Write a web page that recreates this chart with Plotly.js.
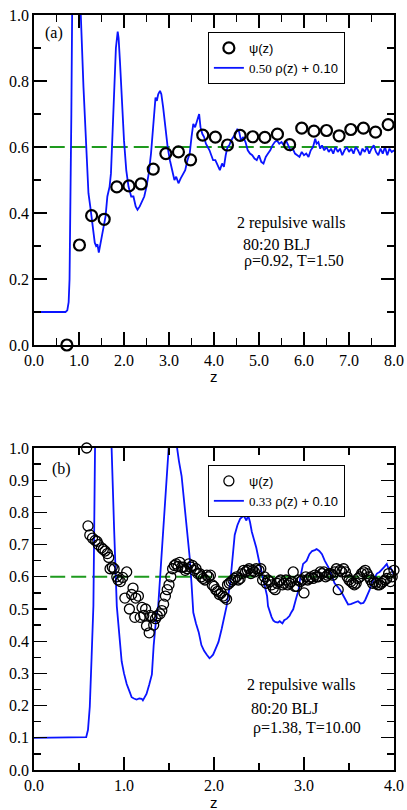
<!DOCTYPE html>
<html><head><meta charset="utf-8">
<script src="https://cdn.plot.ly/plotly-3.0.1.min.js"></script>
<style>html,body{margin:0;padding:0;background:#fff}#chart{width:407px;height:810px}</style>
</head><body><div id="chart"></div>
<script>
// ---------- Panel (a) ----------
const psiA_z = [0.73,1.01,1.28,1.56,1.84,2.11,2.38,2.65,2.93,3.21,3.48,3.75,4.03,4.30,4.58,4.86,5.13,5.41,5.68,5.95,6.22,6.50,6.78,7.04,7.32,7.59,7.87];
const psiA   = [0.00,0.303,0.392,0.381,0.479,0.482,0.488,0.533,0.580,0.585,0.561,0.636,0.630,0.606,0.635,0.631,0.629,0.639,0.607,0.657,0.648,0.650,0.634,0.653,0.657,0.645,0.668];

const rhoA_z = [0,0.70,0.74,0.77,0.79,0.81,0.83,0.85,0.90,0.95,1.00,1.04,1.10,1.16,1.21,1.25,1.30,1.35,1.38,1.41,1.44,1.47,1.51,1.55,1.59,1.63,1.68,1.71,1.74,1.78,1.82,1.86,1.88,1.91,1.95,2.00,2.05,2.10,2.16,2.21,2.26,2.30,2.35,2.40,2.45,2.50,2.55,2.60,2.65,2.70,2.73,2.76,2.80,2.83,2.87,2.92,2.97,3.02,3.07,3.12,3.16,3.21,3.26,3.31,3.36,3.41,3.46,3.50,3.54,3.58,3.63,3.67,3.70,3.74,3.78,3.82,3.86,3.90,3.94,3.98,4.03,4.08,4.13,4.18,4.22,4.26,4.30,4.34,4.38,4.43,4.48,4.52,4.56,4.60,4.65,4.70,4.75,4.80,4.85,4.90,4.95,5.00,5.05,5.10,5.15,5.20,5.25,5.30,5.35,5.40,5.45,5.50,5.55,5.60,5.65,5.70,5.75,5.80,5.85,5.90,5.95,6.00,6.05,6.10,6.15,6.20,6.25,6.28,6.32,6.36,6.40,6.45,6.50,6.55,6.60,6.65,6.70,6.75,6.80,6.85,6.90,6.95,7.00,7.05,7.10,7.15,7.20,7.25,7.30,7.35,7.40,7.45,7.50,7.55,7.60,7.65,7.70,7.75,7.80,7.85,7.90,7.95,8.00];
const rhoA   = [0.10,0.10,0.105,0.13,0.20,0.40,0.70,1.05,1.70,1.90,1.35,1.00,0.78,0.58,0.46,0.42,0.36,0.31,0.30,0.305,0.28,0.30,0.33,0.36,0.39,0.45,0.48,0.52,0.62,0.78,0.90,0.95,0.93,0.86,0.74,0.62,0.53,0.48,0.45,0.45,0.42,0.41,0.42,0.435,0.45,0.48,0.52,0.58,0.66,0.75,0.74,0.76,0.77,0.76,0.72,0.65,0.60,0.56,0.53,0.50,0.51,0.49,0.505,0.52,0.53,0.56,0.58,0.63,0.67,0.66,0.68,0.70,0.66,0.64,0.63,0.61,0.60,0.59,0.575,0.56,0.56,0.545,0.53,0.55,0.54,0.575,0.60,0.605,0.62,0.63,0.64,0.655,0.645,0.62,0.63,0.615,0.59,0.58,0.575,0.565,0.56,0.575,0.555,0.55,0.57,0.58,0.59,0.605,0.615,0.62,0.61,0.615,0.605,0.62,0.605,0.59,0.595,0.58,0.575,0.57,0.585,0.575,0.58,0.57,0.59,0.60,0.625,0.61,0.615,0.595,0.605,0.59,0.60,0.585,0.595,0.58,0.60,0.585,0.595,0.575,0.59,0.60,0.585,0.595,0.58,0.60,0.59,0.575,0.595,0.585,0.60,0.58,0.595,0.605,0.585,0.575,0.595,0.58,0.60,0.575,0.595,0.585,0.59];

// ---------- Panel (b) ----------
const psiB_z = [0.585,0.60,0.62,0.65,0.68,0.70,0.715,0.75,0.77,0.79,0.815,0.83,0.845,0.87,0.89,0.92,0.935,0.96,0.985,1.01,1.03,1.06,1.085,1.10,1.12,1.13,1.16,1.18,1.20,1.22,1.24,1.25,1.28,1.29,1.31,1.33,1.35,1.37,1.40,1.42,1.44,1.46,1.48,1.50,1.52,1.54,1.56,1.58,1.60,1.62,1.64,1.66,1.68,1.70,1.72,1.74,1.76,1.78,1.80,1.82,1.84,1.86,1.88,1.90,1.92,1.94,1.96,1.98,2.00,2.02,2.04,2.06,2.08,2.10,2.12,2.14,2.15,2.17,2.19,2.21,2.23,2.25,2.27,2.29,2.31,2.33,2.35,2.37,2.39,2.41,2.43,2.45,2.47,2.50,2.52,2.54,2.56,2.58,2.60,2.62,2.64,2.66,2.68,2.70,2.72,2.74,2.76,2.78,2.80,2.82,2.84,2.86,2.88,2.90,2.92,2.94,2.96,2.98,3.00,3.02,3.04,3.06,3.08,3.10,3.12,3.14,3.16,3.18,3.20,3.22,3.24,3.26,3.28,3.30,3.32,3.34,3.36,3.38,3.40,3.42,3.44,3.46,3.48,3.50,3.52,3.54,3.56,3.58,3.60,3.62,3.64,3.66,3.68,3.70,3.72,3.74,3.76,3.78,3.80,3.82,3.84,3.86,3.88,3.90,3.92,3.94,3.96,3.98,4.00];
const psiB   = [1.00,0.758,0.730,0.720,0.713,0.710,0.700,0.690,0.685,0.680,0.672,0.660,0.625,0.630,0.625,0.600,0.590,0.585,0.598,0.534,0.615,0.500,0.545,0.565,0.474,0.534,0.540,0.474,0.505,0.480,0.500,0.448,0.426,0.480,0.475,0.450,0.470,0.479,0.485,0.495,0.515,0.540,0.560,0.575,0.600,0.625,0.635,0.640,0.632,0.645,0.630,0.630,0.620,0.625,0.640,0.630,0.635,0.620,0.625,0.610,0.610,0.600,0.595,0.590,0.605,0.600,0.605,0.575,0.570,0.560,0.555,0.545,0.550,0.540,0.535,0.530,0.575,0.580,0.585,0.590,0.595,0.600,0.590,0.595,0.610,0.620,0.615,0.620,0.625,0.610,0.620,0.615,0.625,0.620,0.625,0.590,0.600,0.580,0.590,0.585,0.575,0.565,0.560,0.580,0.585,0.590,0.575,0.580,0.590,0.575,0.580,0.585,0.615,0.570,0.570,0.590,0.585,0.590,0.550,0.600,0.590,0.595,0.600,0.595,0.605,0.600,0.600,0.615,0.610,0.615,0.600,0.605,0.610,0.610,0.605,0.615,0.625,0.560,0.620,0.615,0.625,0.615,0.600,0.590,0.585,0.580,0.575,0.580,0.595,0.600,0.610,0.615,0.620,0.610,0.600,0.590,0.580,0.585,0.580,0.575,0.575,0.580,0.585,0.590,0.595,0.610,0.585,0.600,0.620];

const rhoB_z = [0,0.56,0.58,0.60,0.62,0.64,0.66,0.68,0.72,0.76,0.80,0.84,0.86,0.89,0.92,0.95,0.974,1.00,1.03,1.06,1.085,1.11,1.14,1.17,1.197,1.21,1.23,1.25,1.28,1.31,1.33,1.36,1.38,1.42,1.46,1.49,1.52,1.55,1.585,1.61,1.64,1.67,1.70,1.73,1.75,1.77,1.80,1.83,1.86,1.89,1.92,1.95,1.97,1.99,2.02,2.05,2.085,2.11,2.14,2.18,2.20,2.23,2.26,2.29,2.33,2.35,2.36,2.38,2.40,2.42,2.45,2.47,2.50,2.53,2.56,2.59,2.60,2.62,2.64,2.66,2.68,2.71,2.73,2.76,2.78,2.81,2.84,2.86,2.88,2.91,2.94,2.96,2.99,3.01,3.03,3.06,3.09,3.12,3.14,3.17,3.20,3.23,3.27,3.30,3.34,3.37,3.40,3.43,3.46,3.49,3.52,3.55,3.58,3.60,3.63,3.66,3.68,3.70,3.73,3.75,3.78,3.81,3.84,3.86,3.89,3.92,3.94,3.96,3.98,4.00];
const rhoB   = [0.10,0.10,0.102,0.125,0.197,0.35,0.51,1.05,1.80,2.20,1.90,1.20,1.00,0.75,0.509,0.40,0.337,0.30,0.267,0.245,0.226,0.222,0.219,0.222,0.221,0.216,0.225,0.236,0.265,0.297,0.388,0.479,0.509,0.68,0.86,1.00,1.10,1.08,1.00,0.96,0.913,0.83,0.75,0.66,0.58,0.489,0.455,0.428,0.388,0.37,0.358,0.347,0.352,0.358,0.378,0.398,0.438,0.47,0.509,0.58,0.65,0.73,0.76,0.78,0.79,0.78,0.775,0.79,0.77,0.74,0.71,0.69,0.65,0.61,0.575,0.54,0.509,0.489,0.475,0.464,0.46,0.458,0.462,0.455,0.465,0.47,0.479,0.49,0.499,0.53,0.56,0.60,0.64,0.645,0.65,0.67,0.68,0.683,0.686,0.68,0.67,0.65,0.63,0.61,0.58,0.57,0.56,0.545,0.529,0.514,0.515,0.519,0.522,0.524,0.517,0.519,0.528,0.539,0.56,0.58,0.595,0.61,0.615,0.62,0.63,0.64,0.625,0.63,0.615,0.605];

const refLevel = 0.6;
const refA_z = [0.35, 8.0];
const refB_z = [0.18, 4.0];

const legendA = ['ψ(z)', '<span style="font-family:Liberation Serif">0.50</span> ρ(z) + 0.10'];
const legendB = ['ψ(z)', '<span style="font-family:Liberation Serif">0.33</span> ρ(z) + 0.10'];

const xTicksA = [0,1,2,3,4,5,6,7,8];
const xTicksB = [0,1,2,3,4];

// ---------- traces ----------
const BLUE = '#0a14ff';
const GREEN = '#1e9a1e';
const traces = [
  {x: refA_z, y: refA_z.map(()=>refLevel), xaxis:'x', yaxis:'y', mode:'lines',
   line:{color:GREEN, width:2, dash:'15px,6px'}, showlegend:false, hoverinfo:'skip'},
  {x: rhoA_z, y: rhoA, xaxis:'x', yaxis:'y', mode:'lines', name: legendA[1],
   line:{color:BLUE, width:1.8}, legend:'legend'},
  {x: psiA_z, y: psiA, xaxis:'x', yaxis:'y', mode:'markers', name: legendA[0], cliponaxis:false,
   marker:{symbol:'circle-open', size:11, color:'#000', line:{width:2.2, color:'#000'}}, legend:'legend', legendrank:1},
  {x: refB_z, y: refB_z.map(()=>refLevel), xaxis:'x2', yaxis:'y2', mode:'lines',
   line:{color:GREEN, width:2, dash:'15px,6px'}, showlegend:false, hoverinfo:'skip'},
  {x: rhoB_z, y: rhoB, xaxis:'x2', yaxis:'y2', mode:'lines', name: legendB[1],
   line:{color:BLUE, width:1.8}, legend:'legend2'},
  {x: psiB_z, y: psiB, xaxis:'x2', yaxis:'y2', mode:'markers', name: legendB[0], cliponaxis:false,
   marker:{symbol:'circle-open', size:10, color:'#000', line:{width:1.3, color:'#000'}}, legend:'legend2', legendrank:1}
];

const SERIF = 'Liberation Serif, Times New Roman, Times, serif';
const SANS = 'Liberation Sans, Arial, Helvetica, sans-serif';
const tickFont = {family:SERIF, size:16, color:'#000'};
function axis(extra){
  return Object.assign({
    showgrid:false, zeroline:false, showline:true, linecolor:'#000', linewidth:1.7,
    mirror:'allticks', ticks:'inside', ticklen:13, tickwidth:1.3, tickcolor:'#000',
    tickfont:tickFont, tickformat:'.1f', automargin:false, fixedrange:true
  }, extra);
}
const minorStyle = {ticks:'inside', ticklen:7, tickwidth:1.3, tickcolor:'#000'};
const legendStyle = {
  xref:'paper', yref:'paper', xanchor:'left', yanchor:'top',
  bgcolor:'#fff', bordercolor:'#000', borderwidth:1,
  font:{family:SANS, size:13, color:'#000'},
  itemwidth:30, tracegroupgap:0, traceorder:'normal'
};
const annFont = {family:SERIF, size:16, color:'#000'};
function ann(text, x, y, xref, yref){
  return {text, x, y, xref, yref, xanchor:'left', yanchor:'middle', showarrow:false, font:annFont};
}
function axisTitle(xref, yref, y){
  return {text:'z', x:0.5, y, xref, yref, xanchor:'center', yanchor:'top', showarrow:false, borderpad:0,
          font:{family:SANS, size:15, color:'#000'}};
}

const layout = {
  width:407, height:810,
  margin:{l:34, r:13, t:15, b:40},
  paper_bgcolor:'#fff', plot_bgcolor:'#fff',
  font:{family:SERIF, size:16, color:'#000'},
  showlegend:true,
  xaxis: axis({domain:[0,1], anchor:'y', range:[0,8], tickvals:xTicksA,
    minor:Object.assign({dtick:0.5}, minorStyle)}),
  yaxis: axis({domain:[0.5629,1], anchor:'x', range:[0,1], dtick:0.2, tick0:0,
    minor:Object.assign({dtick:0.1}, minorStyle)}),
  xaxis2: axis({domain:[0,1], anchor:'y2', range:[0,4], tickvals:xTicksB,
    minor:Object.assign({dtick:0.5}, minorStyle)}),
  yaxis2: axis({domain:[0,0.4265], anchor:'x2', range:[0,1], dtick:0.1, tick0:0,
    minor:Object.assign({dtick:0.05}, minorStyle)}),
  legend: Object.assign({x:0.483, y:0.9775}, legendStyle),
  legend2: Object.assign({x:0.483, y:0.4040}, legendStyle),
  annotations: [
    axisTitle('x domain', 'y domain', -0.0667),
    axisTitle('x2 domain', 'y2 domain', -0.0699),
    ann('(a)', 0.025, 0.945, 'x domain', 'y domain'),
    ann('2 repulsive walls', 0.558, 0.37, 'x domain', 'y domain'),
    ann('80:20 BLJ', 0.574, 0.305, 'x domain', 'y domain'),
    ann('ρ=0.92, T=1.50', 0.577, 0.255, 'x domain', 'y domain'),
    ann('(b)', 0.044, 0.9348, 'x2 domain', 'y2 domain'),
    ann('2 repulsive walls', 0.586, 0.264, 'x2 domain', 'y2 domain'),
    ann('80:20 BLJ', 0.597, 0.1925, 'x2 domain', 'y2 domain'),
    ann('ρ=1.38, T=10.00', 0.603, 0.1304, 'x2 domain', 'y2 domain')
  ]
};

Plotly.newPlot('chart', traces, layout, {displayModeBar:false, staticPlot:true});
</script></body></html>
